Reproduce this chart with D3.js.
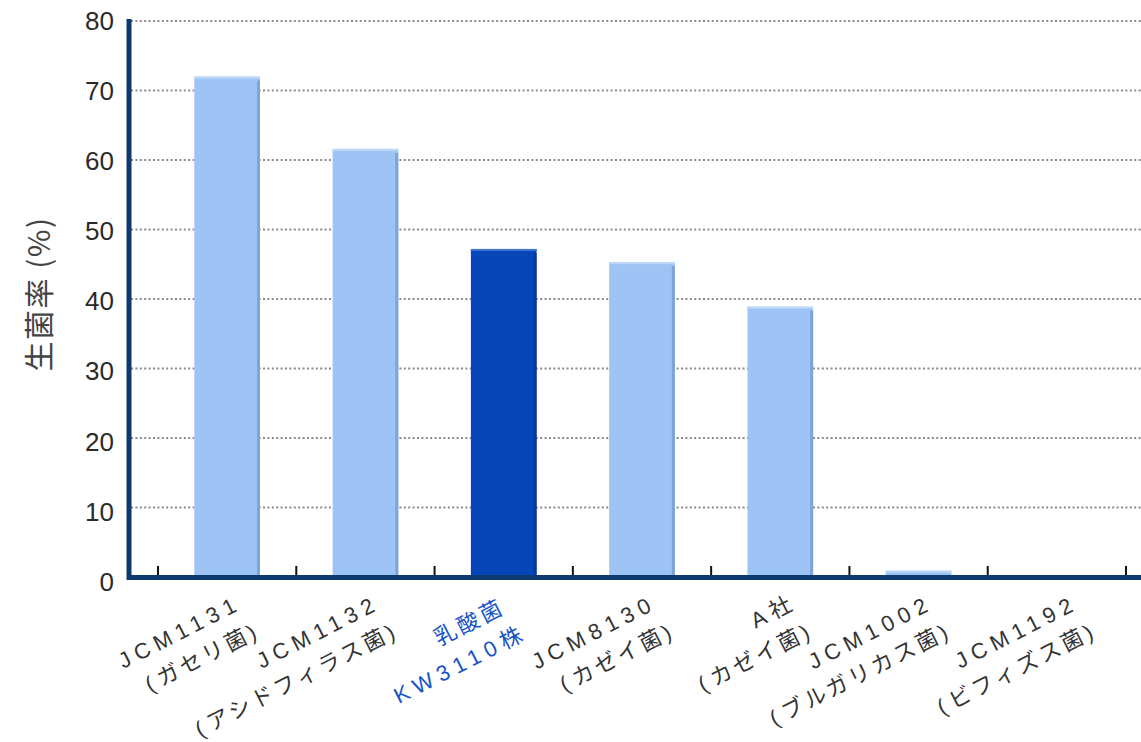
<!DOCTYPE html>
<html><head><meta charset="utf-8">
<script src="https://cdn.jsdelivr.net/npm/d3@7"></script>
<style>
html,body{margin:0;padding:0;background:#fff;}
svg{display:block;}
</style></head>
<body>
<svg id="chart" width="1141" height="742"></svg>
<script>
const categories = ["JCM1131","JCM1132","KW3110","JCM8130","A社","JCM1002","JCM1192"];
const labelLine1 = ["JCM1131","JCM1132","乳酸菌","JCM8130","A社","JCM1002","JCM1192"];
const labelLine2 = ["(ガセリ菌)","(アシドフィラス菌)","KW3110株","(カゼイ菌)","(カゼイ菌)","(ブルガリカス菌)","(ビフィズス菌)"];
const values = [72, 61.6, 47.2, 45.3, 38.9, 0.9, 0];
const highlight = ["KW3110"];
const yTicks = [0,10,20,30,40,50,60,70,80];
const yTitle = "生菌率 (%)";

const svg = d3.select("#chart");
const x = d3.scaleBand().domain(categories).range([158, 1126]).padding(0);
const y = d3.scaleLinear().domain([0, 80]).range([577, 21]);
const barW = x.bandwidth() * 0.475;
const axisColor = "#0b3a6e";

svg.append("g").selectAll("line").data(yTicks.filter(d => d > 0)).join("line")
  .attr("x1", 131).attr("x2", 1141)
  .attr("y1", d => y(d)).attr("y2", d => y(d))
  .attr("stroke", "#8a8a8a").attr("stroke-width", 2).attr("stroke-dasharray", "2,2.4");

const bars = svg.append("g").selectAll("g").data(categories).join("g");
bars.append("rect")
  .attr("x", d => x(d) + (x.bandwidth() - barW) / 2)
  .attr("width", barW)
  .attr("y", (d, i) => y(values[i]))
  .attr("height", (d, i) => y(0) - y(values[i]))
  .attr("fill", d => highlight.includes(d) ? "#0646b9" : "#9dc4f5");
bars.append("rect")
  .attr("x", d => x(d) + (x.bandwidth() + barW) / 2 - 3)
  .attr("width", 3)
  .attr("y", (d, i) => Math.min(y(values[i]) + 4, y(0)))
  .attr("height", (d, i) => Math.max(0, y(0) - y(values[i]) - 4))
  .attr("fill", d => highlight.includes(d) ? "#053a9a" : "#7fa3d6");
bars.append("rect")
  .attr("x", d => x(d) + (x.bandwidth() - barW) / 2)
  .attr("width", barW)
  .attr("y", (d, i) => y(values[i]))
  .attr("height", (d, i) => values[i] > 0 ? 2 : 0)
  .attr("fill", d => highlight.includes(d) ? "#3f74d0" : "#bcd7f8");

const tickPos = categories.map(c => x(c)).concat([x.range()[1]]);
svg.append("g").selectAll("line").data(tickPos).join("line")
  .attr("x1", d => d).attr("x2", d => d)
  .attr("y1", 566).attr("y2", 576)
  .attr("stroke", "#111").attr("stroke-width", 2);

svg.append("line").attr("x1", 129).attr("x2", 129).attr("y1", 19).attr("y2", 580)
  .attr("stroke", axisColor).attr("stroke-width", 5);
svg.append("line").attr("x1", 127).attr("x2", 1141).attr("y1", 577.5).attr("y2", 577.5)
  .attr("stroke", axisColor).attr("stroke-width", 5);

const yAxis = d3.axisLeft(y).tickValues(yTicks).tickSize(0).tickPadding(0);
const ya = svg.append("g").attr("transform", "translate(114,0)").call(yAxis);
ya.select(".domain").remove();
ya.selectAll("text")
  .attr("font-family", "'Liberation Sans', Arial, sans-serif")
  .attr("font-size", 26).attr("fill", "#2a2a2a")
  .attr("dy", "0.32em")
  .attr("transform", d => `translate(0,${(80 - d) / 80 * 5})`);

svg.append("text")
  .attr("transform", "translate(37,294) rotate(-90)")
  .attr("text-anchor", "middle").attr("dominant-baseline", "central")
  .attr("font-family", "'Noto Sans CJK JP', sans-serif")
  .attr("font-size", 30).attr("fill", "#444")
  .attr("letter-spacing", 1.5)
  .text(yTitle);

function runs(s) { return s.match(/[\x00-\x7F]+|[^\x00-\x7F]+/g) || []; }
const lab = svg.append("g").selectAll("text").data(categories).join("text")
  .attr("transform", (d, i) => {
    const hl = highlight.includes(d);
    const cx = x(d) + x.bandwidth() / 2 + (hl ? 3 : 16) + (i === categories.length - 1 ? 7 : 0);
    return `translate(${cx},${hl ? 612 : 608}) rotate(-27)`;
  })
  .attr("text-anchor", "end")
  .attr("font-family", "'Liberation Sans', 'Noto Sans CJK JP', sans-serif")
  .attr("font-size", 22)
  .attr("fill", d => highlight.includes(d) ? "#1753c6" : "#333");
[labelLine1, labelLine2].forEach((arr, li) => {
  lab.each(function(d, i) {
    const t = d3.select(this);
    runs(arr[i]).forEach((r, k) => {
      const sp = t.append("tspan").text(r)
        .attr("letter-spacing", /^[\x00-\x7F]+$/.test(r) ? 6 : 3.2);
      if (k === 0) sp.attr("x", li * 6).attr("y", li * 33);
    });
  });
});
</script>
</body></html>
